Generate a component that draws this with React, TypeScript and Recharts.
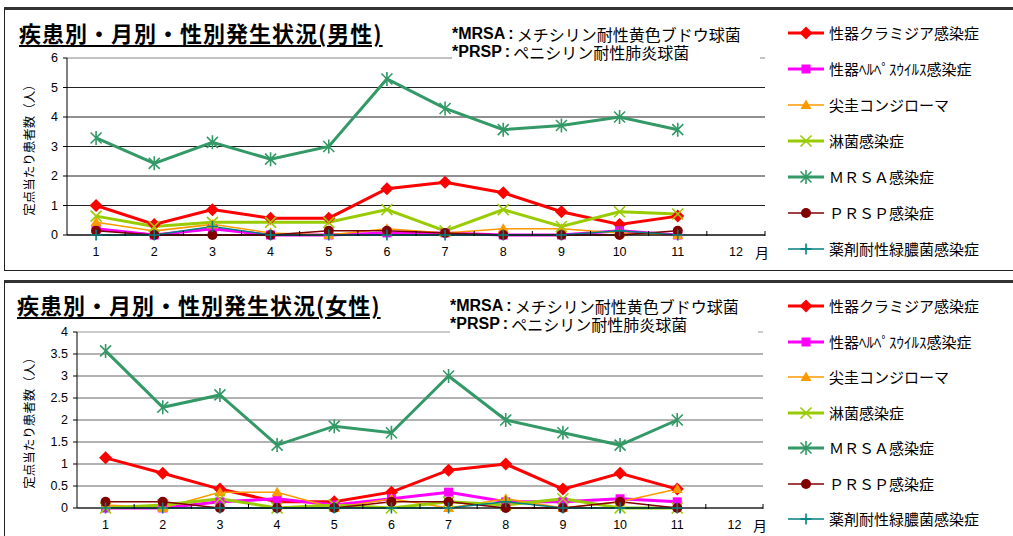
import React from 'react';
import { LineChart, Line, XAxis, YAxis, CartesianGrid, ReferenceLine } from 'recharts';

// ---------- data ----------
const months = ['1', '2', '3', '4', '5', '6', '7', '8', '9', '10', '11', '12'];
const seriesNames = [
  '性器クラミジア感染症',
  '性器ﾍﾙﾍﾟｽｳｲﾙｽ感染症',
  '尖圭コンジローマ',
  '淋菌感染症',
  'ＭＲＳＡ感染症',
  'ＰＲＳＰ感染症',
  '薬剤耐性緑膿菌感染症',
];

// male (values for months 1-11)
const maleChlamydia = [1.0, 0.36, 0.86, 0.57, 0.57, 1.57, 1.79, 1.43, 0.79, 0.36, 0.64];
const maleHerpes = [0.21, 0, 0.21, 0, 0, 0.07, 0.07, 0, 0, 0.14, 0];
const maleCondyloma = [0.43, 0.14, 0.36, 0.07, 0, 0.21, 0.07, 0.21, 0.21, 0.07, 0];
const maleGonorrhea = [0.64, 0.29, 0.43, 0.43, 0.43, 0.86, 0.14, 0.86, 0.29, 0.79, 0.71];
const maleMRSA = [3.29, 2.43, 3.14, 2.57, 3.0, 5.29, 4.29, 3.57, 3.71, 4.0, 3.57];
const malePRSP = [0.14, 0, 0, 0, 0.14, 0.14, 0.07, 0, 0, 0, 0.14];
const malePseudomonas = [0, 0, 0.29, 0, 0, 0, 0, 0, 0, 0.14, 0];

// female (values for months 1-11)
const femaleChlamydia = [1.14, 0.79, 0.43, 0.14, 0.14, 0.36, 0.86, 1.0, 0.43, 0.79, 0.43];
const femaleHerpes = [0, 0, 0.14, 0.21, 0.07, 0.21, 0.36, 0.14, 0.14, 0.21, 0.14];
const femaleCondyloma = [0.07, 0, 0.36, 0.36, 0, 0.21, 0, 0.21, 0, 0.14, 0.43];
const femaleGonorrhea = [0, 0.07, 0.21, 0, 0.07, 0, 0.14, 0.07, 0.21, 0, 0];
const femaleMRSA = [3.57, 2.29, 2.57, 1.43, 1.86, 1.71, 3.0, 2.0, 1.71, 1.43, 2.0];
const femalePRSP = [0.14, 0.14, 0, 0, 0, 0.14, 0.14, 0, 0, 0.14, 0];
const femalePseudomonas = [0, 0, 0, 0, 0, 0, 0, 0.14, 0, 0, 0];

const maleYTicks = [0, 1, 2, 3, 4, 5, 6];
const femaleYTicks = [0, 0.5, 1, 1.5, 2, 2.5, 3, 3.5, 4];

const maleTitle = '疾患別・月別・性別発生状況(男性)';
const femaleTitle = '疾患別・月別・性別発生状況(女性)';
const yLabel = '定点当たり患者数（人）';
const noteMRSA = ['*MRSA', ':', 'メチシリン耐性黄色ブドウ球菌'];
const notePRSP = ['*PRSP', ':', 'ペニシリン耐性肺炎球菌'];

// ---------- styles ----------
type Shape = 'diamond' | 'square' | 'triangle' | 'x' | 'asterisk' | 'circle' | 'plus';
const seriesStyles: { color: string; width: number; shape: Shape }[] = [
  { color: '#FF0000', width: 3, shape: 'diamond' },
  { color: '#FF00FF', width: 3, shape: 'square' },
  { color: '#FF9900', width: 1.5, shape: 'triangle' },
  { color: '#99CC00', width: 3, shape: 'x' },
  { color: '#339966', width: 3, shape: 'asterisk' },
  { color: '#800000', width: 1.5, shape: 'circle' },
  { color: '#008080', width: 1.5, shape: 'plus' },
];

const CHART_FONT = "'Liberation Sans', Arial, 'Noto Sans CJK JP', sans-serif";
const JP_FONT = "'Noto Sans CJK JP', 'Liberation Sans', sans-serif";

function buildData(arrays: number[][]) {
  return months.map((m, i) => {
    const row: any = { month: m };
    arrays.forEach((arr, k) => {
      row['s' + k] = i < arr.length ? arr[i] : null;
    });
    return row;
  });
}

const maleData = buildData([
  maleChlamydia, maleHerpes, maleCondyloma, maleGonorrhea, maleMRSA, malePRSP, malePseudomonas,
]);
const femaleData = buildData([
  femaleChlamydia, femaleHerpes, femaleCondyloma, femaleGonorrhea, femaleMRSA, femalePRSP, femalePseudomonas,
]);

function Marker({ shape, color, cx, cy }: { shape: Shape; color: string; cx: number; cy: number }) {
  switch (shape) {
    case 'diamond':
      return <polygon points={`${cx},${cy - 6.5} ${cx + 6.5},${cy} ${cx},${cy + 6.5} ${cx - 6.5},${cy}`} fill={color} />;
    case 'square':
      return <rect x={cx - 4.5} y={cy - 4.5} width={9} height={9} fill={color} />;
    case 'triangle':
      return <polygon points={`${cx},${cy - 5.5} ${cx + 5.5},${cy + 4} ${cx - 5.5},${cy + 4}`} fill={color} />;
    case 'x':
      return (
        <path d={`M${cx - 5.5},${cy - 5.5}L${cx + 5.5},${cy + 5.5}M${cx + 5.5},${cy - 5.5}L${cx - 5.5},${cy + 5.5}`}
          stroke={color} strokeWidth={1.6} fill="none" />
      );
    case 'asterisk':
      return (
        <path d={`M${cx - 5.5},${cy - 5.5}L${cx + 5.5},${cy + 5.5}M${cx + 5.5},${cy - 5.5}L${cx - 5.5},${cy + 5.5}M${cx},${cy - 7}L${cx},${cy + 7}`}
          stroke={color} strokeWidth={1.6} fill="none" />
      );
    case 'circle':
      return <circle cx={cx} cy={cy} r={5} fill={color} />;
    case 'plus':
      return (
        <path d={`M${cx - 5.5},${cy}L${cx + 5.5},${cy}M${cx},${cy - 5.5}L${cx},${cy + 5.5}`}
          stroke={color} strokeWidth={1.6} fill="none" />
      );
  }
  return null;
}

const makeDot = (shape: Shape, color: string) => (props: any) => {
  const { cx, cy, value, index } = props;
  if (value == null || cx == null || cy == null || isNaN(cx) || isNaN(cy)) return <g key={'d' + index} />;
  return (
    <g key={'d' + index}>
      <Marker shape={shape} color={color} cx={cx} cy={cy} />
    </g>
  );
};

const makeXTick = (bw: number) => (props: any) => {
  const { x, y, payload } = props;
  const isLast = payload.value === months[months.length - 1];
  return (
    <g>
      <line x1={x + bw / 2} x2={x + bw / 2} y1={y - 4} y2={y + 1} stroke="#000" strokeWidth={1} />
      <text x={x} y={y + 17} dy="0.35em" textAnchor="middle" fontSize={12.5} fill="#000" fontFamily={CHART_FONT}>
        {payload.value}
      </text>
      {isLast && (
        <text x={x + bw / 2 - 3} y={y + 18} dy="0.35em" textAnchor="middle" fontSize={14} fill="#000" fontFamily={JP_FONT}>
          月
        </text>
      )}
    </g>
  );
};

type Geo = {
  top: number; // svg top on page
  height: number;
  plotLeft: number;
  plotRight: number;
  plotTop: number; // page coords
  plotBottom: number; // page coords
};

function ChartBlock({ data, yTicks, geo, gridColor }: { data: any[]; yTicks: number[]; geo: Geo; gridColor: string }) {
  const W = 1013;
  const yAxisW = 40;
  const xAxisH = 24;
  const bw = (geo.plotRight - geo.plotLeft) / months.length;
  const margin = {
    top: geo.plotTop - geo.top,
    left: geo.plotLeft - yAxisW,
    right: W - geo.plotRight,
    bottom: geo.top + geo.height - geo.plotBottom - xAxisH,
  };
  const yMax = yTicks[yTicks.length - 1];
  return (
    <div style={{ position: 'absolute', left: 0, top: geo.top }}>
      <LineChart width={W} height={geo.height} data={data} margin={margin}>
        <CartesianGrid vertical={false} stroke={gridColor} strokeWidth={1} />
        <ReferenceLine y={yMax} stroke="#d4d4d4" strokeWidth={1.5} />
        <XAxis
          dataKey="month"
          interval={0}
          height={xAxisH}
          padding={{ left: bw / 2, right: bw / 2 }}
          axisLine={{ stroke: '#000', strokeWidth: 1 }}
          tickLine={false}
          tickSize={0}
          tickMargin={0}
          tick={makeXTick(bw)}
        />
        <YAxis
          width={yAxisW}
          domain={[0, yMax]}
          ticks={yTicks}
          interval={0}
          axisLine={{ stroke: '#000', strokeWidth: 1 }}
          tickLine={{ stroke: '#000' }}
          tickSize={4}
          tickMargin={5}
          tick={{ fontSize: 12.5, fill: '#000', fontFamily: CHART_FONT }}
        />
        {seriesStyles.map((st, k) => (
          <Line
            key={k}
            dataKey={'s' + k}
            name={seriesNames[k]}
            type="linear"
            stroke={st.color}
            strokeWidth={st.width}
            dot={makeDot(st.shape, st.color)}
            activeDot={false}
            isAnimationActive={false}
            connectNulls={false}
          />
        ))}
      </LineChart>
    </div>
  );
}

function LegendBlock({ left, start, step }: { left: number; start: number; step: number }) {
  return (
    <>
      {seriesNames.map((name, i) => {
        const st = seriesStyles[i];
        return (
          <div
            key={i}
            style={{
              position: 'absolute',
              left,
              top: start + step * i - 11,
              height: 22,
              display: 'flex',
              alignItems: 'center',
              whiteSpace: 'nowrap',
            }}
          >
            <svg width={36} height={16} style={{ display: 'block' }}>
              <line x1={0} x2={36} y1={8} y2={8} stroke={st.color} strokeWidth={st.width} />
              <Marker shape={st.shape} color={st.color} cx={18} cy={8} />
            </svg>
            <span style={{ marginLeft: 5, fontSize: 15, fontFamily: JP_FONT, color: '#000', lineHeight: '22px' }}>{name}</span>
          </div>
        );
      })}
    </>
  );
}

function Note({ left, top, line1, line2 }: { left: number; top: number; line1: string[]; line2: string[] }) {
  const spanBase: React.CSSProperties = { display: 'inline-block', height: 18, lineHeight: '18px', verticalAlign: 'top' };
  const line = (parts: string[]) => (
    <div style={{ height: 18, lineHeight: '18px', whiteSpace: 'nowrap', overflow: 'visible' }}>
      <span style={{ ...spanBase, fontWeight: 'bold', fontFamily: CHART_FONT }}>{parts[0]}</span>
      <span style={{ ...spanBase, fontWeight: 'bold', fontFamily: CHART_FONT, margin: '0 3px' }}>{parts[1]}</span>
      <span style={{ ...spanBase, fontFamily: JP_FONT }}>{parts[2]}</span>
    </div>
  );
  return (
    <div
      style={{
        position: 'absolute',
        left,
        top,
        width: 308,
        height: 44,
        paddingTop: 2,
        boxSizing: 'border-box',
        background: '#fff',
        fontSize: 16,
        color: '#000',
      }}
    >
      {line(line1)}
      {line(line2)}
    </div>
  );
}

function Title({ left, centerY, text }: { left: number; centerY: number; text: string }) {
  return (
    <div
      style={{
        position: 'absolute',
        left,
        top: centerY - 14,
        height: 28,
        lineHeight: '28px',
        fontSize: 22,
        letterSpacing: 1,
        fontWeight: 'bold',
        fontFamily: JP_FONT,
        textDecoration: 'underline',
        textDecorationThickness: 2,
        textUnderlineOffset: 3,
        whiteSpace: 'nowrap',
        color: '#000',
      }}
    >
      {text}
    </div>
  );
}

function YLabel({ cx, cy, text }: { cx: number; cy: number; text: string }) {
  return (
    <div
      style={{
        position: 'absolute',
        left: cx,
        top: cy,
        transform: 'translate(-50%, -50%) rotate(-90deg)',
        fontSize: 12.5,
        fontFamily: JP_FONT,
        whiteSpace: 'nowrap',
        color: '#000',
        lineHeight: '14px',
      }}
    >
      {text}
    </div>
  );
}

export default function App() {
  const maleGeo: Geo = { top: 0, height: 270, plotLeft: 67, plotRight: 765, plotTop: 58, plotBottom: 235 };
  const femaleGeo: Geo = { top: 272, height: 264, plotLeft: 77, plotRight: 763, plotTop: 332, plotBottom: 508 };
  return (
    <div
      style={{
        position: 'absolute',
        left: 0,
        top: 0,
        width: 1013,
        height: 536,
        overflow: 'hidden',
        background: '#fff',
      }}
    >
      {/* panel borders */}
      <div
        style={{
          position: 'absolute',
          left: 4,
          top: 7,
          width: 1012,
          height: 264,
          boxSizing: 'border-box',
          borderTop: '3px solid #333',
          borderLeft: '1px solid #222',
          borderBottom: '1px solid #222',
        }}
      />
      <div
        style={{
          position: 'absolute',
          left: 4,
          top: 280,
          width: 1012,
          height: 270,
          boxSizing: 'border-box',
          borderTop: '3px solid #333',
          borderLeft: '1px solid #222',
        }}
      />

      <ChartBlock data={maleData} yTicks={maleYTicks} geo={maleGeo} gridColor="#222" />
      <ChartBlock data={femaleData} yTicks={femaleYTicks} geo={femaleGeo} gridColor="#666" />

      <Title left={19} centerY={32} text={maleTitle} />
      <Title left={17} centerY={304} text={femaleTitle} />

      <Note left={452} top={23} line1={noteMRSA} line2={notePRSP} />
      <Note left={450} top={295} line1={noteMRSA} line2={notePRSP} />

      <YLabel cx={29} cy={(maleGeo.plotTop + maleGeo.plotBottom) / 2} text={yLabel} />
      <YLabel cx={29} cy={(femaleGeo.plotTop + femaleGeo.plotBottom) / 2} text={yLabel} />

      <LegendBlock left={788} start={33} step={36} />
      <LegendBlock left={788} start={306} step={35.5} />
    </div>
  );
}
